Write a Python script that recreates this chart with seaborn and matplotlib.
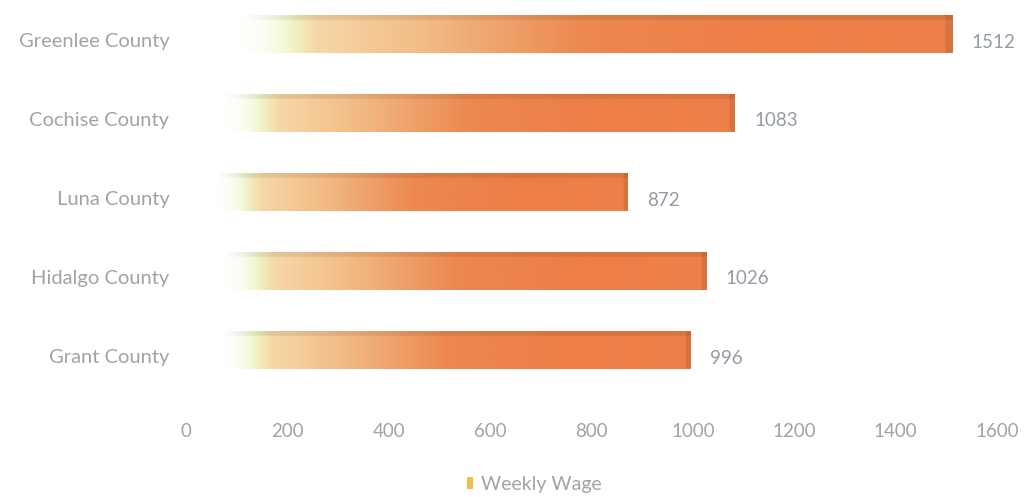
import numpy as np
import matplotlib
matplotlib.use("Agg")
import matplotlib.pyplot as plt
import matplotlib.transforms as mtransforms
from matplotlib.colors import to_rgb
from matplotlib.patches import Patch
import seaborn as sns
import pandas as pd

counties = ["Greenlee County", "Cochise County", "Luna County", "Hidalgo County", "Grant County"]
weekly_wage = [1512, 1083, 872, 1026, 996]
x_ticks = [0, 200, 400, 600, 800, 1000, 1200, 1400, 1600]
series_name = "Weekly Wage"

sns.set_theme(style="white")
plt.rcParams["font.family"] = ["Lato", "DejaVu Sans"]

TEXT = "#a3a3a3"
VALUE_TEXT = "#949ba5"

df = pd.DataFrame({"county": counties, "wage": weekly_wage})

fig = plt.figure(figsize=(10.26, 4.97), dpi=100)
ax = fig.add_axes([186 / 1026, 1 - 389.5 / 497, (997 - 186) / 1026, 395 / 497])

sns.barplot(data=df, x="wage", y="county", orient="h", width=0.49,
            color="#ec7d45", ax=ax)

# Horizontal colour ramp, expressed as a fraction of each bar's length
stops = [
    (0.00, "#ffffff"),
    (0.10, "#f8fbe6"),
    (0.135, "#eff6c8"),
    (0.17, "#f6d8a6"),
    (0.30, "#f3bd88"),
    (0.42, "#efa068"),
    (0.52, "#ec8850"),
    (0.75, "#ec7e46"),
    (1.00, "#ee8049"),
]
pos = np.array([s[0] for s in stops])
cols = np.array([to_rgb(s[1]) for s in stops])
alpha_pos = np.array([0.0, 0.07, 0.14, 1.0])
alpha_val = np.array([0.0, 0.0, 1.0, 1.0])


def bar_image(ncols=400, nrows=60):
    t = np.linspace(0, 1, ncols)
    row = np.stack([np.interp(t, pos, cols[:, k]) for k in range(3)], axis=-1)
    img = np.repeat(row[None, :, :], nrows, axis=0)
    # darker top face
    top = int(nrows * 0.15)
    img[:top] = img[:top] * 0.92
    # slightly darker right end (bar side)
    img[:, -4:] = img[:, -4:] * 0.9
    img = np.clip(img, 0, 1)
    a = np.interp(t, alpha_pos, alpha_val)
    alpha = np.repeat(a[None, :, None], nrows, axis=0)
    return np.concatenate([img, alpha], axis=-1)


for patch, val in zip(ax.patches, weekly_wage):
    x0, y0 = patch.get_x(), patch.get_y()
    w, h = patch.get_width(), patch.get_height()
    patch.set_facecolor("none")
    patch.set_edgecolor("none")
    im = ax.imshow(bar_image(), extent=(x0, x0 + w, y0 + h, y0),
                   aspect="auto", interpolation="bilinear", zorder=2)
    im.set_clip_path(patch)
    ax.annotate(f"{val}", xy=(x0 + w, y0 + h / 2), xytext=(19, -8),
                textcoords="offset pixels", va="center", ha="left",
                color=VALUE_TEXT, fontsize=13.5)

ax.set_xlim(0, 1600)
ax.set_ylim(4.5, -0.5)
ax.set_xticks(x_ticks)
ax.set_xticklabels([str(t) for t in x_ticks])
ax.set_xlabel("")
ax.set_ylabel("")
ax.tick_params(axis="x", colors=TEXT, labelsize=13.5, length=0, pad=24)
ax.tick_params(axis="y", colors=TEXT, labelsize=14.5, length=0, pad=12)
# category labels sit slightly below the bar centres
shift = mtransforms.ScaledTranslation(0, -6 / 100, fig.dpi_scale_trans)
for lab in ax.get_yticklabels():
    lab.set_transform(lab.get_transform() + shift)
for s in ax.spines.values():
    s.set_visible(False)
ax.grid(False)

handle = Patch(facecolor="#e9c04a", edgecolor="none")
fig.legend(handles=[handle], labels=[series_name], loc="center",
           bbox_to_anchor=(0.521, 0.026), frameon=False, fontsize=14,
           handlelength=0.3, handleheight=0.6, handletextpad=0.4,
           labelcolor=TEXT)

fig.savefig("out.png", dpi=100, facecolor="white")
